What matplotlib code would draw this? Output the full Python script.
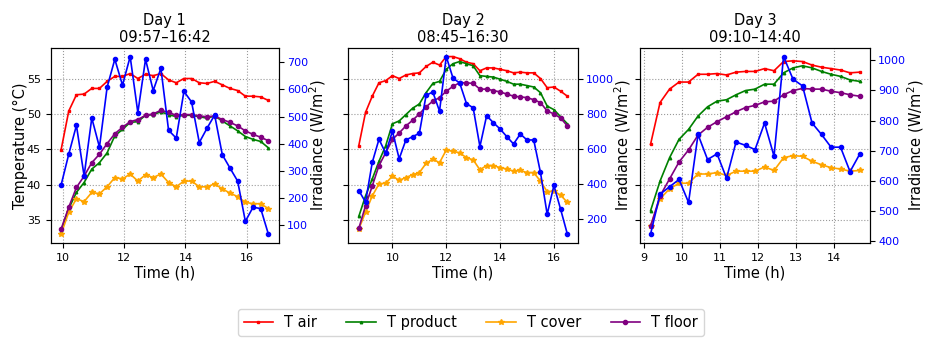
import matplotlib
matplotlib.use("Agg")
import matplotlib.pyplot as plt
from matplotlib.ticker import MultipleLocator

# --- data ----------------------------------------------------------------
day1_times = ["09:57", "10:12", "10:27", "10:42", "10:57", "11:12", "11:27",
              "11:42", "11:57", "12:12", "12:27", "12:42", "12:57", "13:12",
              "13:27", "13:42", "13:57", "14:12", "14:27", "14:42", "14:57",
              "15:12", "15:27", "15:42", "15:57", "16:12", "16:27", "16:42"]
day1_air = [44.9, 50.4, 52.7, 52.8, 53.6, 53.6, 54.6, 55.3, 55.3, 55.7, 55.0,
            55.6, 55.4, 55.7, 54.8, 54.4, 55.0, 55.0, 54.4, 54.3, 54.6, 54.1,
            53.6, 53.3, 52.5, 52.5, 52.4, 51.9]
day1_product = [33.5, 36.6, 38.9, 40.3, 42.2, 43.1, 44.5, 46.9, 47.8, 48.8,
                48.9, 49.8, 49.9, 50.3, 49.9, 49.6, 49.8, 49.8, 49.6, 49.4,
                49.7, 49.0, 48.3, 47.6, 46.8, 46.4, 46.1, 45.2]
day1_cover = [33.0, 36.1, 38.0, 37.6, 38.9, 38.7, 39.7, 41.0, 40.8, 41.5,
              40.5, 41.4, 41.0, 41.5, 40.3, 39.7, 40.5, 40.5, 39.7, 39.7,
              40.1, 39.4, 38.8, 38.3, 37.5, 37.3, 37.3, 36.6]
day1_floor = [33.7, 36.8, 39.6, 41.2, 43.1, 44.3, 45.8, 47.2, 48.1, 48.9,
              49.2, 49.8, 50.0, 50.5, 50.2, 49.8, 49.9, 49.9, 49.7, 49.6,
              49.7, 49.2, 48.8, 48.3, 47.6, 47.1, 46.7, 46.2]
day1_irr = [248, 362, 468, 282, 495, 388, 609, 711, 616, 721, 515, 711, 596,
            678, 450, 421, 593, 554, 405, 457, 506, 360, 311, 263, 115, 167,
            162, 68]

day2_times = ["08:45", "09:00", "09:15", "09:30", "09:45", "10:00", "10:15",
              "10:30", "10:45", "11:00", "11:15", "11:30", "11:45", "12:00",
              "12:15", "12:30", "12:45", "13:00", "13:15", "13:30", "13:45",
              "14:00", "14:15", "14:30", "14:45", "15:00", "15:15", "15:30",
              "15:45", "16:00", "16:15", "16:30"]
day2_air = [45.5, 50.2, 52.5, 54.4, 54.7, 55.4, 55.0, 55.5, 55.7, 55.8, 56.7,
            57.3, 56.9, 58.1, 58.1, 57.8, 57.3, 57.1, 56.1, 56.5, 56.5, 56.3,
            56.1, 55.8, 55.9, 55.8, 55.8, 55.0, 53.7, 53.8, 53.2, 52.5]
day2_product = [35.5, 38.4, 40.8, 43.3, 45.5, 48.6, 49.0, 49.9, 50.8, 51.4,
                53.0, 54.3, 54.6, 56.3, 57.1, 57.4, 57.1, 56.8, 55.4, 55.3,
                55.2, 54.9, 54.6, 54.2, 54.2, 54.0, 53.8, 53.0, 51.1, 50.6,
                49.6, 48.6]
day2_cover = [33.7, 36.1, 38.4, 40.1, 40.2, 41.2, 40.6, 41.0, 41.4, 41.7,
              43.0, 43.6, 43.1, 44.9, 44.7, 44.5, 43.8, 43.5, 42.1, 42.7,
              42.7, 42.4, 42.2, 41.9, 42.0, 41.7, 41.7, 40.5, 39.0, 39.1,
              38.5, 37.5]
day2_floor = [33.8, 37.0, 39.8, 42.7, 44.5, 46.4, 47.3, 48.3, 49.1, 50.0,
              51.0, 51.8, 52.3, 53.2, 53.9, 54.4, 54.4, 54.3, 53.5, 53.5,
              53.3, 53.1, 52.8, 52.5, 52.4, 52.3, 52.0, 51.6, 50.4, 50.0,
              49.4, 48.3]
day2_irr = [361, 295, 522, 655, 575, 702, 543, 651, 670, 689, 907, 926, 816,
            1129, 1006, 977, 860, 835, 613, 790, 750, 714, 670, 628, 685, 651,
            651, 465, 225, 390, 253, 111]

day3_times = ["09:10", "09:25", "09:40", "09:55", "10:10", "10:25", "10:40",
              "10:55", "11:10", "11:25", "11:40", "11:55", "12:10", "12:25",
              "12:40", "12:55", "13:10", "13:25", "13:40", "13:55", "14:10",
              "14:25", "14:40"]
day3_air = [45.7, 51.6, 53.5, 54.5, 54.5, 55.6, 55.6, 55.7, 55.5, 55.9, 56.0,
            56.0, 56.4, 56.1, 57.4, 57.5, 57.4, 56.9, 56.6, 56.4, 56.2, 55.8,
            55.9]
day3_product = [36.3, 40.5, 43.8, 46.4, 47.8, 49.7, 51.0, 51.8, 52.0, 52.7,
                53.3, 53.5, 54.2, 54.2, 55.8, 56.5, 56.8, 56.5, 56.0, 55.6,
                55.3, 54.8, 54.6]
day3_cover = [34.2, 38.0, 39.4, 40.2, 40.2, 41.5, 41.5, 41.7, 41.3, 41.9,
              41.9, 41.9, 42.5, 42.0, 43.8, 44.1, 44.0, 43.3, 42.8, 42.4,
              42.2, 41.9, 42.0]
day3_floor = [34.1, 38.4, 40.8, 43.2, 44.9, 47.0, 48.1, 48.9, 49.6, 50.3,
              50.9, 51.2, 51.7, 51.8, 52.7, 53.3, 53.6, 53.5, 53.5, 53.2,
              53.0, 52.7, 52.5]
day3_irr = [424, 556, 581, 605, 529, 754, 671, 690, 609, 729, 718, 704, 792,
            682, 1012, 937, 915, 792, 754, 712, 712, 631, 688]

day_titles = ["Day 1\n09:57\u201316:42", "Day 2\n08:45\u201316:30",
              "Day 3\n09:10\u201314:40"]
series_labels = ["T air", "T product", "T cover", "T floor"]


def to_hours(stamps):
    out = []
    for s in stamps:
        h, m = s.split(":")
        out.append(int(h) + int(m) / 60.0)
    return out


days = [
    (day1_times, day1_air, day1_product, day1_cover, day1_floor, day1_irr),
    (day2_times, day2_air, day2_product, day2_cover, day2_floor, day2_irr),
    (day3_times, day3_air, day3_product, day3_cover, day3_floor, day3_irr),
]

styles = [
    dict(color="red", marker="s", markersize=1.8),
    dict(color="green", marker="^", markersize=1.8),
    dict(color="orange", marker="*", markersize=4),
    dict(color="purple", marker="o", markersize=3),
]
x_steps = [2, 2, 1]

plt.rcParams["font.family"] = "DejaVu Sans"
fig, axes = plt.subplots(1, 3, sharey=True, figsize=(9.27, 3.43), dpi=100)

positions = [(0.0547, 0.2915, 0.246, 0.5694),
             (0.3758, 0.2915, 0.2475, 0.5694),
             (0.6905, 0.2915, 0.248, 0.5694)]

for i, (ax, day) in enumerate(zip(axes, days)):
    ax.set_position(positions[i])
    hours = to_hours(day[0])
    for values, label, st in zip(day[1:5], series_labels, styles):
        ax.plot(hours, values, label=label, linewidth=1.2, **st)
    ax.grid(True, color="gray", linestyle=":", linewidth=0.8, alpha=0.8)
    ax.xaxis.set_major_locator(MultipleLocator(x_steps[i]))
    ax.set_xlabel("Time (h)", fontsize=10.5, labelpad=2)
    ax.set_title(day_titles[i], fontsize=10.5, pad=4)
    ax.tick_params(labelsize=8)

    ax2 = ax.twinx()
    ax2.plot(hours, day[5], color="blue", marker="o", markersize=3,
             linewidth=1.2)
    ax2.set_ylabel("Irradiance (W/m$^2$)", fontsize=10.5, labelpad=-1)
    ax2.tick_params(axis="y", labelsize=8, labelcolor="blue", pad=2.5)
    ax2.set_position(positions[i])

axes[0].set_ylabel("Temperature (\u00b0C)", fontsize=10.5, labelpad=-1)

handles, labels = axes[0].get_legend_handles_labels()
fig.legend(handles, labels, loc="lower center", bbox_to_anchor=(0.508, 0.0),
           ncol=4, fontsize=10.5, frameon=True)

fig.savefig("out.png", dpi=100)
